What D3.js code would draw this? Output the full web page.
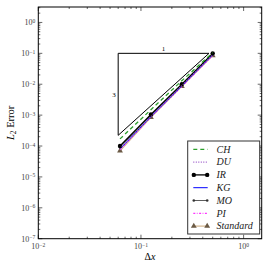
<!DOCTYPE html>
<html><head><meta charset="utf-8">
<script src="https://cdn.jsdelivr.net/npm/d3@7"></script>
<style>body{margin:0;background:#fff}svg{display:block}</style>
</head><body>
<script>
const dx = [0.0625, 0.125, 0.25, 0.5];
const seriesNames = ["CH", "DU", "IR", "KG", "MO", "PI", "Standard"];
const CH = [1.7e-4, 1.5e-3, 1.3e-2, 1.05e-1];
const DU = [8.0e-5, 9.0e-4, 9.0e-3, 9.0e-2];
const IR = [1.0e-4, 1.05e-3, 1.0e-2, 1.0e-1];
const KG = [8.0e-5, 9.0e-4, 8.8e-3, 9.0e-2];
const MO = [9.0e-5, 1.0e-3, 9.5e-3, 9.5e-2];
const PI = [7.5e-5, 8.8e-4, 8.5e-3, 8.5e-2];
const Standard = [7.0e-5, 8.5e-4, 8.5e-3, 8.5e-2];
const xTickLabels = ["10^-2", "10^-1", "10^0"];
const yTickLabels = ["10^-7","10^-6","10^-5","10^-4","10^-3","10^-2","10^-1","10^0"];
const triangle = {x0: 0.06, x1: 0.46, yTop: 0.1, order: 3};

const values = {CH, DU, IR, KG, MO, PI, Standard};
const styles = {
  CH: {color:"#2ca02c", dash:"4,3", w:1.3},
  DU: {color:"#9a55c8", dash:"1,1.5", w:1.2},
  IR: {color:"#000", dash:null, w:1.3, marker:"dot", r:2.2},
  KG: {color:"#0000ff", dash:null, w:1},
  MO: {color:"#333", dash:null, w:0.8, marker:"dot", r:1.3, mcolor:"#333"},
  PI: {color:"#ff33ff", dash:"2,1.5,0.8,1.5", w:1.2},
  Standard: {color:"#d2b48c", dash:null, w:1.2, marker:"tri", r:2.4, mcolor:"#6b5a45"}
};

const W = 269, H = 269;
const m = {l:38.3, r:7.3, t:7, b:30.3};
const svg = d3.select("body").append("svg").attr("width", W).attr("height", H);
const x = d3.scaleLog().domain([0.01, 1.5]).range([m.l, W - m.r]);
const y = d3.scaleLog().domain([1e-7, Math.pow(10, 0.5)]).range([H - m.b, m.t]);
const font = "'Liberation Serif', 'DejaVu Serif', serif";

function supLabel(sel, s) {
  const [base, exp] = s.split("^");
  sel.text(null);
  sel.append("tspan").text(base);
  sel.append("tspan").attr("dy", "-0.45em").attr("font-size", "0.7em").text(exp.replace("-", "\u2212"));
}

const g = svg.append("g");
const xMajors = [0.01, 0.1, 1];
const xMinors = [];
for (const d of [0.01, 0.1, 1]) for (let k = 2; k <= 9; k++) { const v = d * k; if (v <= 1.5) xMinors.push(v); }
const yMajors = [1e-7,1e-6,1e-5,1e-4,1e-3,1e-2,1e-1,1];
const yMinors = [];
for (const d of yMajors) for (let k = 2; k <= 9; k++) { const v = d * k; if (v <= Math.pow(10,0.5)) yMinors.push(v); }
const pT = m.t, pB = H - m.b, pL = m.l, pR = W - m.r;
function tickX(v, len) {
  g.append("line").attr("x1", x(v)).attr("x2", x(v)).attr("y1", pB).attr("y2", pB - len).attr("stroke", "#000").attr("stroke-width", 0.6);
  g.append("line").attr("x1", x(v)).attr("x2", x(v)).attr("y1", pT).attr("y2", pT + len).attr("stroke", "#000").attr("stroke-width", 0.6);
}
function tickY(v, len) {
  g.append("line").attr("y1", y(v)).attr("y2", y(v)).attr("x1", pL).attr("x2", pL + len).attr("stroke", "#000").attr("stroke-width", 0.6);
  g.append("line").attr("y1", y(v)).attr("y2", y(v)).attr("x1", pR).attr("x2", pR - len).attr("stroke", "#000").attr("stroke-width", 0.6);
}
xMajors.forEach(v => tickX(v, 4)); xMinors.forEach(v => tickX(v, 2));
yMajors.forEach(v => tickY(v, 4)); yMinors.forEach(v => tickY(v, 2));

xMajors.forEach((v, i) => {
  svg.append("text").attr("x", x(v)).attr("y", pB + 10.5).attr("text-anchor", "middle")
    .attr("font-family", font).attr("font-size", 8).attr("fill", "#444").call(s => supLabel(s, xTickLabels[i]));
});
yMajors.forEach((v, i) => {
  svg.append("text").attr("x", pL - 3).attr("y", y(v) + 3).attr("text-anchor", "end")
    .attr("font-family", font).attr("font-size", 8).attr("fill", "#444").call(s => supLabel(s, yTickLabels[i]));
});

svg.append("text").attr("x", 150).attr("y", 260).attr("text-anchor", "middle").attr("font-family", font).attr("font-size", 10)
  .call(s => { s.append("tspan").text("\u0394"); s.append("tspan").attr("font-style", "italic").text("x"); });
svg.append("text").attr("transform", `translate(13.5,${(pT + pB) / 2}) rotate(-90)`).attr("text-anchor", "middle")
  .attr("font-family", font).attr("font-size", 10.5)
  .call(s => {
    s.append("tspan").attr("font-style", "italic").text("L");
    s.append("tspan").attr("font-size", 7.5).attr("dy", 2.5).text("2");
    s.append("tspan").attr("dy", -2.5).text(" Error");
  });

const tri = svg.append("g");
const yBot = triangle.yTop * Math.pow(triangle.x0 / triangle.x1, triangle.order);
const line = d3.line().x(d => x(d[0])).y(d => y(d[1]));
tri.append("path").attr("d", line([[triangle.x0, yBot], [triangle.x0, triangle.yTop], [triangle.x1, triangle.yTop], [triangle.x0, yBot]]))
  .attr("fill", "none").attr("stroke", "#000").attr("stroke-width", 1);
tri.append("text").attr("x", (x(triangle.x0) + x(triangle.x1)) / 2).attr("y", y(triangle.yTop) - 2)
  .attr("text-anchor", "middle").attr("font-family", font).attr("font-size", 7).text("1");
tri.append("text").attr("x", x(triangle.x0) - 2.5).attr("y", (y(triangle.yTop) + y(yBot)) / 2 + 2.5)
  .attr("text-anchor", "end").attr("font-family", font).attr("font-size", 7).text(String(triangle.order));

const sg = svg.append("g");
const order = ["Standard", "PI", "MO", "KG", "IR", "DU", "CH"];
function drawMarker(gg, st, cx, cy) {
  if (st.marker === "dot") gg.append("circle").attr("cx", cx).attr("cy", cy).attr("r", st.r).attr("fill", st.mcolor || st.color);
  else if (st.marker === "tri") gg.append("path").attr("d", d3.symbol().type(d3.symbolTriangle).size(st.r * st.r * 2.6)()).attr("transform", `translate(${cx},${cy})`).attr("fill", st.mcolor);
}
order.forEach(name => {
  const st = styles[name];
  const pts = dx.map((d, i) => [d, values[name][i]]);
  sg.append("path").attr("d", line(pts)).attr("fill", "none").attr("stroke", st.color).attr("stroke-width", st.w)
    .attr("stroke-dasharray", st.dash);
  if (st.marker) pts.forEach(p => drawMarker(sg, st, x(p[0]), y(p[1])));
});

svg.append("rect").attr("x", pL).attr("y", pT).attr("width", pR - pL).attr("height", pB - pT)
  .attr("fill", "none").attr("stroke", "#000").attr("stroke-width", 1);

const lg = svg.append("g");
lg.append("rect").attr("x", 187.7).attr("y", 141).attr("width", 72).attr("height", 93)
  .attr("fill", "#fff").attr("stroke", "#333").attr("stroke-width", 1);
seriesNames.forEach((name, i) => {
  const st = styles[name];
  const cy = 149.3 + i * 12.8;
  lg.append("line").attr("x1", 193.3).attr("x2", 207.7).attr("y1", cy).attr("y2", cy)
    .attr("stroke", st.color).attr("stroke-width", st.w).attr("stroke-dasharray", st.dash);
  if (st.marker) { drawMarker(lg, st, 193.8, cy); drawMarker(lg, st, 207.2, cy); }
  lg.append("text").attr("x", 216.5).attr("y", cy + 3.3).attr("font-family", font).attr("font-style", "italic")
    .attr("font-size", 10).attr("fill", "#222").text(name);
});
</script>
</body></html>
